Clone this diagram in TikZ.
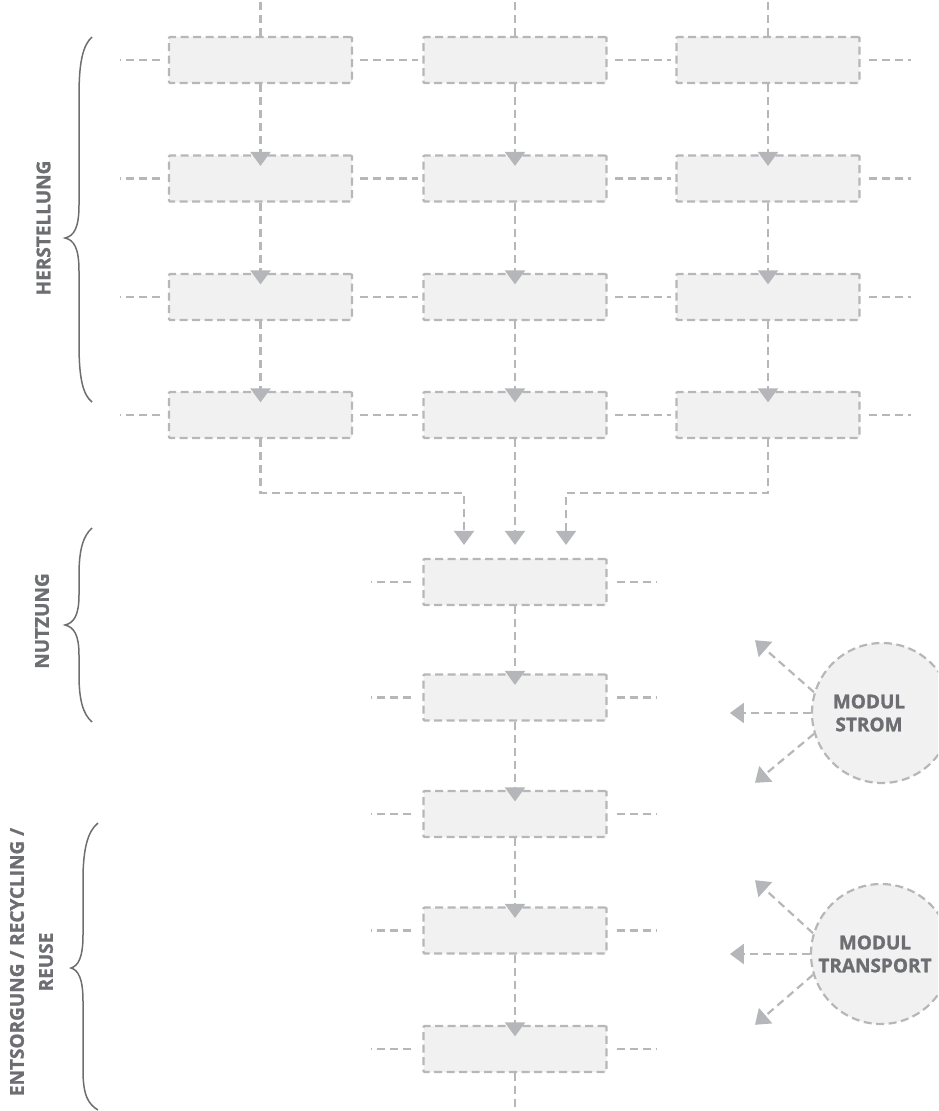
\documentclass[tikz,border=0pt]{standalone}
\usepackage{fontspec}
\setmainfont{Open Sans}[BoldFeatures={FakeBold=1.3}]
\usetikzlibrary{arrows.meta}

\definecolor{linegray}{HTML}{B7B7BA}
\definecolor{tipgray}{HTML}{B5B6B9}
\definecolor{boxfill}{HTML}{F1F1F1}
\definecolor{textgray}{HTML}{6D6E71}

\begin{document}
\begin{tikzpicture}[x=1pt,y=-1pt,
  box/.style={draw=linegray,fill=boxfill,line width=2.2pt,dash pattern=on 8pt off 4.5pt,
    minimum width=183pt,minimum height=46pt,inner sep=0pt,rounded corners=1pt},
  link/.style={draw=linegray,line width=2.2pt,dash pattern=on 8pt off 5pt},
  flow/.style={link,-{Triangle[length=14pt,width=20pt,color=tipgray]}},
  module/.style={circle,draw=linegray,fill=boxfill,line width=2.2pt,dash pattern=on 8pt off 4.5pt,
    minimum size=140pt,inner sep=0pt},
  modtext/.style={text=textgray,font=\bfseries\fontsize{19}{23}\selectfont,align=center},
  phase/.style={text=textgray,font=\bfseries\fontsize{19}{29}\selectfont,rotate=90,align=center},
  brace/.style={draw=textgray,line width=1.5pt}]
\useasboundingbox (0,0) rectangle (938,1111);
\clip (0,0) rectangle (938,1111);

% Herstellung
\node[box] (b11) at (260.5,60) {};
\node[box] (b12) at (515,60) {};
\node[box] (b13) at (768,60) {};
\node[box] (b21) at (260.5,178.5) {};
\node[box] (b22) at (515,178.5) {};
\node[box] (b23) at (768,178.5) {};
\node[box] (b31) at (260.5,297) {};
\node[box] (b32) at (515,297) {};
\node[box] (b33) at (768,297) {};
\node[box] (b41) at (260.5,415) {};
\node[box] (b42) at (515,415) {};
\node[box] (b43) at (768,415) {};

\draw[link] (b11.north) -- ++(0,-40);
\draw[link] (b12.north) -- ++(0,-40);
\draw[link] (b13.north) -- ++(0,-40);
\draw[flow] (b11.south) -- ([yshift=-11.5pt]b21.north);
\draw[flow] (b12.south) -- ([yshift=-11.5pt]b22.north);
\draw[flow] (b13.south) -- ([yshift=-11.5pt]b23.north);
\draw[flow] (b21.south) -- ([yshift=-11.5pt]b31.north);
\draw[flow] (b22.south) -- ([yshift=-11.5pt]b32.north);
\draw[flow] (b23.south) -- ([yshift=-11.5pt]b33.north);
\draw[flow] (b31.south) -- ([yshift=-11.5pt]b41.north);
\draw[flow] (b32.south) -- ([yshift=-11.5pt]b42.north);
\draw[flow] (b33.south) -- ([yshift=-11.5pt]b43.north);

\draw[link] ([xshift=-8pt]b11.west) -- ++(-40,0);
\draw[link] ([xshift=7pt]b11.east) -- ([xshift=-4pt]b12.west);
\draw[link] ([xshift=7pt]b12.east) -- ([xshift=-4pt]b13.west);
\draw[link] ([xshift=8pt]b13.east) -- ++(42,0);
\draw[link] ([xshift=-8pt]b21.west) -- ++(-40,0);
\draw[link] ([xshift=7pt]b21.east) -- ([xshift=-4pt]b22.west);
\draw[link] ([xshift=7pt]b22.east) -- ([xshift=-4pt]b23.west);
\draw[link] ([xshift=8pt]b23.east) -- ++(42,0);
\draw[link] ([xshift=-8pt]b31.west) -- ++(-40,0);
\draw[link] ([xshift=7pt]b31.east) -- ([xshift=-4pt]b32.west);
\draw[link] ([xshift=7pt]b32.east) -- ([xshift=-4pt]b33.west);
\draw[link] ([xshift=8pt]b33.east) -- ++(42,0);
\draw[link] ([xshift=-8pt]b41.west) -- ++(-40,0);
\draw[link] ([xshift=7pt]b41.east) -- ([xshift=-4pt]b42.west);
\draw[link] ([xshift=7pt]b42.east) -- ([xshift=-4pt]b43.west);
\draw[link] ([xshift=8pt]b43.east) -- ++(42,0);

% Nutzung / Entsorgung
\node[box] (n1) at (515,582) {};
\node[box] (n2) at (515,697.5) {};
\node[box] (n3) at (515,814) {};
\node[box] (n4) at (515,930.5) {};
\node[box] (n5) at (515,1049) {};

\draw[flow] (b41.south) -- ++(0,54) -| ([xshift=-51pt,yshift=13pt]n1.north);
\draw[flow] (b42.south) -- ([yshift=13pt]n1.north);
\draw[flow] (b43.south) -- ++(0,54) -| ([xshift=51pt,yshift=13pt]n1.north);
\draw[flow] (n1.south) -- ([yshift=-11.5pt]n2.north);
\draw[flow] (n2.south) -- ([yshift=-11.5pt]n3.north);
\draw[flow] (n3.south) -- ([yshift=-11.5pt]n4.north);
\draw[flow] (n4.south) -- ([yshift=-11.5pt]n5.north);
\draw[link] (n5.south) -- ++(0,40);

\draw[link] ([xshift=-11pt]n1.west) -- ++(-40,0);
\draw[link] ([xshift=9pt]n1.east) -- ++(40,0);
\draw[link] ([xshift=-11pt]n2.west) -- ++(-40,0);
\draw[link] ([xshift=9pt]n2.east) -- ++(40,0);
\draw[link] ([xshift=-11pt]n3.west) -- ++(-40,0);
\draw[link] ([xshift=9pt]n3.east) -- ++(40,0);
\draw[link] ([xshift=-11pt]n4.west) -- ++(-40,0);
\draw[link] ([xshift=9pt]n4.east) -- ++(40,0);
\draw[link] ([xshift=-11pt]n5.west) -- ++(-40,0);
\draw[link] ([xshift=9pt]n5.east) -- ++(40,0);

% Module
\node[module] (strom) at (882,713) {};
\node[modtext] (strom-t) at (869,713) {MODUL\\STROM};
\draw[flow] (strom.163) -- ++(-59,-52);
\draw[flow] (strom.west) -- ++(-81,0);
\draw[flow] (strom.197) -- ++(-59,49);

\node[module] (transport) at (881,954) {};
\node[modtext] (transport-t) at (875,954) {MODUL\\TRANSPORT};
\draw[flow] (transport.163) -- ++(-58,-53);
\draw[flow] (transport.west) -- ++(-80,0);
\draw[flow] (transport.197) -- ++(-58,50);

% Phasen
\node[phase] (herst) at (43.5,228) {HERSTELLUNG};
\node[phase] (nutz) at (42,621) {NUTZUNG};
\node[phase] (entsorg) at (31.5,962) {ENTSORGUNG / RECYCLING /\\REUSE};

\draw[brace] (92,37) .. controls (83,45) and (79,62) .. (79,95) -- (79,205)
  .. controls (79,228) and (74,236) .. (65,238) .. controls (74,240) and (79,248) .. (79,271)
  -- (79,345) .. controls (79,378) and (83,395) .. (92,402);
\draw[brace] (92,528) .. controls (83,536) and (79,550) .. (79,575) -- (79,595)
  .. controls (79,615) and (74,623) .. (65,625) .. controls (74,627) and (79,635) .. (79,655)
  -- (79,675) .. controls (79,700) and (83,714) .. (92,722);
\draw[brace] (98,823) .. controls (88,831) and (83,848) .. (83,880) -- (83,935)
  .. controls (83,958) and (78,966) .. (71,968) .. controls (78,970) and (83,978) .. (83,1001)
  -- (83,1070) .. controls (83,1095) and (88,1104) .. (98,1110);
\end{tikzpicture}
\end{document}
